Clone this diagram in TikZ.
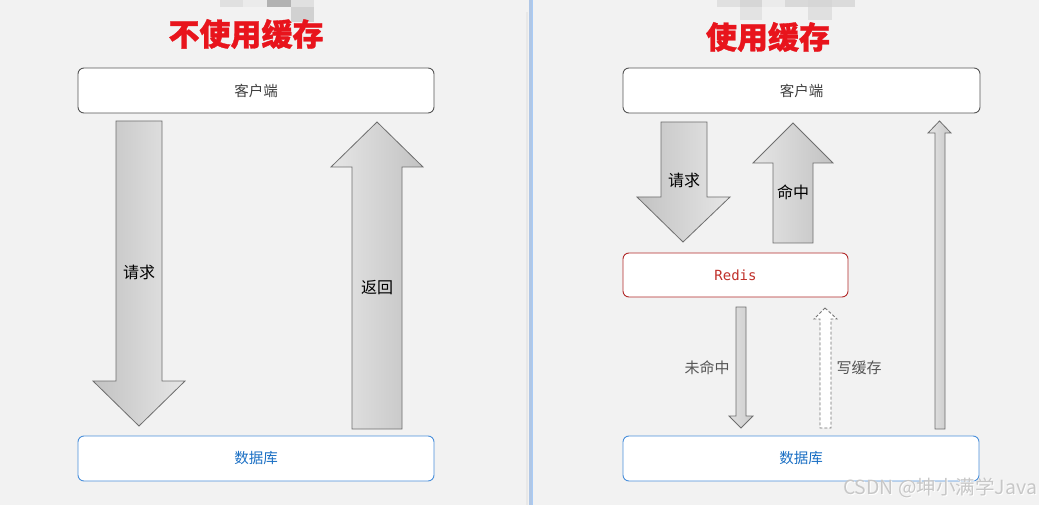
\documentclass[tikz,border=0pt]{standalone}
\usepackage{fontspec}
\newfontfamily\cjk{Noto Sans CJK SC}
\newfontfamily\cjkheavy{Noto Sans CJK SC}[BoldFeatures={FakeBold=1}]
\newfontfamily\monof{DejaVu Sans Mono}
\definecolor{bg}{HTML}{F2F2F2}
\definecolor{titlered}{HTML}{E8141C}
\definecolor{boxgray}{HTML}{555555}
\definecolor{dbblue}{HTML}{4A8FDB}
\definecolor{dbtext}{HTML}{1A6FC4}
\definecolor{redisred}{HTML}{B22A2A}
\definecolor{redistext}{HTML}{C0302A}
\definecolor{arrowedge}{HTML}{6E6E6E}
\definecolor{dark}{HTML}{C2C2C2}
\definecolor{light}{HTML}{E6E6E6}
\definecolor{lbl}{HTML}{555555}
\definecolor{divblue}{HTML}{B0C7E6}
\definecolor{divedge}{HTML}{A9CBF5}
\tikzset{
  box/.style={draw=boxgray, fill=white, rounded corners=6pt, line width=0.9pt,
    minimum height=45pt, inner sep=0pt, font=\cjk\fontsize{14.5}{14.5}\selectfont, text=black!75},
  dbbox/.style={box, draw=dbblue, text=dbtext},
  redisbox/.style={box, draw=redisred, text=redistext, font=\monof\fontsize{14}{14}\selectfont},
  blockdown/.style={draw=arrowedge, line width=0.8pt, left color=dark, right color=light},
  blockup/.style={draw=arrowedge, line width=0.8pt, left color=light, right color=dark},
  arrlbl/.style={font=\cjk\fontsize{16}{16}\selectfont, text=black, inner sep=0pt},
  sidelbl/.style={font=\cjk\fontsize{15}{15}\selectfont, text=lbl, inner sep=0pt},
  titlelbl/.style={font=\cjkheavy\bfseries\fontsize{31}{31}\selectfont, text=titlered, inner sep=0pt},
}
\begin{document}
\begin{tikzpicture}[x=1pt,y=-1pt]
\fill[bg] (0,0) rectangle (1039,505);
\useasboundingbox (0,0) rectangle (1039,505);
% divider
\fill[black!9] (526,12) rectangle (528,505);
\fill[divblue] (529,0) rectangle (533,505);
\fill[divedge] (532,0) rectangle (533,505);
% blurred pixel patches
\fill[black!12] (220,0) rectangle (243,7);
\fill[black!8] (243,0) rectangle (267,7);
\fill[black!30] (267,0) rectangle (291,7);
\fill[black!12] (291,0) rectangle (314,7);
\fill[black!18] (291,7) rectangle (314,22);
\fill[black!12] (717,0) rectangle (740,7);
\fill[black!16] (740,0) rectangle (762,7);
\fill[black!11] (740,7) rectangle (762,20);
\fill[black!8] (762,0) rectangle (785,7);
\fill[black!15] (785,0) rectangle (808,7);
\fill[black!16] (808,0) rectangle (832,7);
\fill[black!12] (808,7) rectangle (832,20);
\fill[black!14] (832,0) rectangle (855,7);

% titles
\node[titlelbl] (t1) at (246,34) {不使用缓存};
\node[titlelbl] (t2) at (768,37) {使用缓存};

% left panel
\node[box, minimum width=356pt] (c1) at (256,90.5) {客户端};
\node[dbbox, minimum width=356pt] (d1) at (256,458.5) {数据库};
\path[blockdown] (116,121) -- (162,121) -- (162,381) -- (185,381) -- (139,426)
  -- (93,381) -- (116,381) -- cycle;
\node[arrlbl] (l1) at (139,272) {请求};
\path[blockup] (377,122) -- (423,167) -- (402,167) -- (402,429) -- (352,429)
  -- (352,167) -- (331,167) -- cycle;
\node[arrlbl] (l2) at (377,288) {返回};

% right panel
\node[box, minimum width=357pt] (c2) at (801.5,90.5) {客户端};
\node[redisbox, minimum width=225pt, minimum height=44pt] (r) at (735.5,275) {Redis};
\node[dbbox, minimum width=356pt] (d2) at (801,458.5) {数据库};
\path[blockdown] (661,122) -- (707,122) -- (707,197) -- (730,197) -- (683,242)
  -- (637,197) -- (661,197) -- cycle;
\node[arrlbl] (l3) at (684,180) {请求};
\path[blockup] (793,123) -- (833,163) -- (813,163) -- (813,243) -- (773,243)
  -- (773,163) -- (753,163) -- cycle;
\node[arrlbl] (l4) at (793,192) {命中};
% miss arrow
\path[draw=arrowedge, line width=0.8pt, left color=black!12, right color=black!20]
  (736,307) -- (746,307) -- (746,416) -- (753,416) -- (741,428) -- (729,416)
  -- (736,416) -- cycle;
\node[sidelbl] (l5) at (707,368) {未命中};
% write-cache dashed arrow
\path[draw=black!55, fill=white, line width=0.9pt, dash pattern=on 3pt off 2pt]
  (825,308) -- (837,319) -- (831,319) -- (831,428) -- (820,428) -- (820,319)
  -- (814,319) -- cycle;
\node[sidelbl] (l6) at (859,368) {写缓存};
% tall thin arrow
\path[draw=arrowedge, line width=0.8pt, left color=black!10, right color=black!22]
  (939.5,121) -- (951,133) -- (945,133) -- (945,429) -- (935,429) -- (935,133)
  -- (928,133) -- cycle;

% watermark
\node[font=\cjk\fontsize{19.5}{19.5}\selectfont, text=white, inner sep=0pt] at (941,489) {CSDN @坤小满学Java};
\node[font=\cjk\fontsize{19.5}{19.5}\selectfont, text=black!22, inner sep=0pt] (wm) at (940,488) {CSDN @坤小满学Java};
\end{tikzpicture}
\end{document}
